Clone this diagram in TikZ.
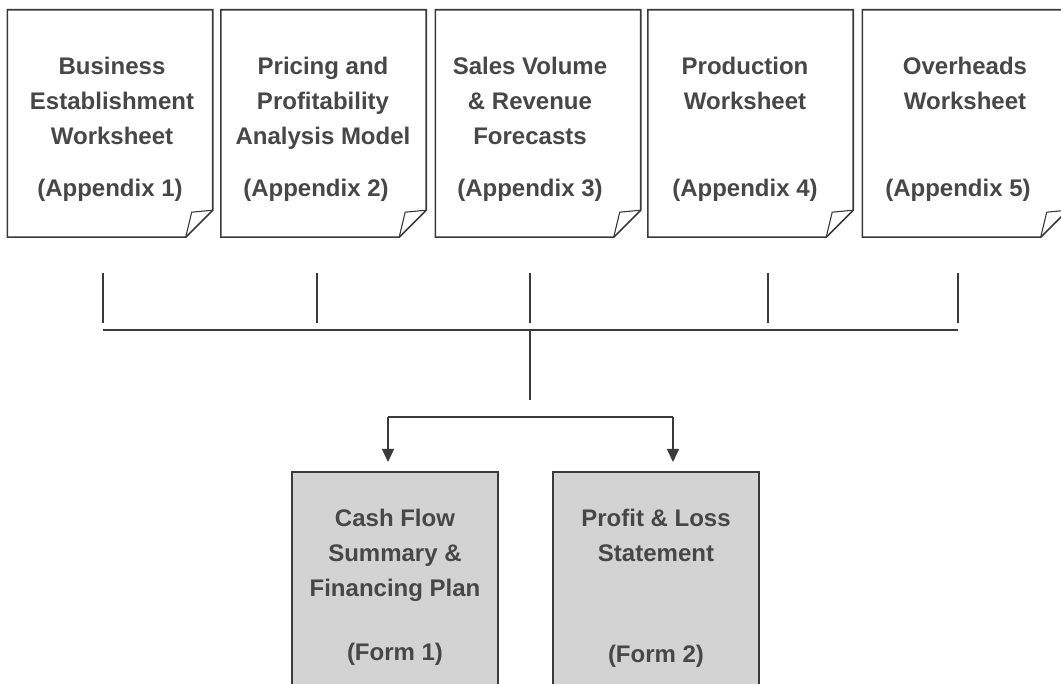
\documentclass[tikz,border=0pt]{standalone}
\usepackage{fontspec}
\usetikzlibrary{arrows.meta}
\newfontfamily\boxfont{Liberation Sans}
\definecolor{linegray}{HTML}{3A3A3A}
\definecolor{textgray}{HTML}{474747}
\definecolor{formgray}{HTML}{D3D3D3}

% outline of a sheet node with its folded corner
\newcommand\sheet[1]{
\draw[sheetline] (#1.north west) -- (#1.north east) -- ([yshift=27]#1.south east)
  -- ([xshift=-27]#1.south east) -- (#1.south west) -- cycle;
\draw[sheetline, line width=1.1] ([yshift=27]#1.south east) -- ([xshift=-21,yshift=25]#1.south east)
  -- ([xshift=-27]#1.south east);
}

\begin{document}
\begin{tikzpicture}[x=1pt, y=-1pt,
  sheetline/.style = {draw=linegray, line width=1.6, line join=miter},
  sheetbox/.style = {minimum width=205, minimum height=227, inner sep=0},
  formbox/.style = {draw=linegray, line width=1.6, fill=formgray, minimum width=206, minimum height=260, inner sep=0},
  title/.style = {font=\boxfont\bfseries\fontsize{24}{35}\selectfont, text=textgray, align=center, inner sep=0},
  link/.style = {draw=linegray, line width=1.5},
  arrow/.style = {link, -{Triangle[length=13,width=12]}}]
\clip (0,0) rectangle (1061,684);
\fill[white] (0,0) rectangle (1061,684);

% worksheets across the top
\node[sheetbox] (d1) at (110,123.5) {};
\node[sheetbox] (d2) at (323.5,123.5) {};
\node[sheetbox] (d3) at (538,123.5) {};
\node[sheetbox] (d4) at (750.5,123.5) {};
\node[sheetbox] (d5) at (965,123.5) {};
\sheet{d1} \sheet{d2} \sheet{d3} \sheet{d4} \sheet{d5}

\node[title, anchor=north] (d1t) at (112,57) {Business\\Establishment\\Worksheet};
\node[title, anchor=north] (d2t) at (323,57) {Pricing and\\Profitability\\Analysis Model};
\node[title, anchor=north] (d3t) at (530,57) {Sales Volume\\\& Revenue\\Forecasts};
\node[title, anchor=north] (d4t) at (745,57) {Production\\Worksheet};
\node[title, anchor=north] (d5t) at (965,57) {Overheads\\Worksheet};
\node[title, anchor=base] (d1a) at (110,197) {(Appendix 1)};
\node[title, anchor=base] (d2a) at (316,197) {(Appendix 2)};
\node[title, anchor=base] (d3a) at (530,197) {(Appendix 3)};
\node[title, anchor=base] (d4a) at (745,197) {(Appendix 4)};
\node[title, anchor=base] (d5a) at (958,197) {(Appendix 5)};

% the two forms at the bottom
\node[formbox] (cf) at (395,602) {};
\node[formbox] (pl) at (656,602) {};
\node[title, anchor=north] (cft) at (395,509) {Cash Flow\\Summary \&\\Financing Plan};
\node[title, anchor=north] (plt) at (656,509) {Profit \& Loss\\Statement};
\node[title, anchor=base] (cfa) at (395,660) {(Form 1)};
\node[title, anchor=base] (pla) at (656,662) {(Form 2)};

% ticks and bus
\coordinate (t1) at (103,273); \coordinate (b1) at (103,323);
\coordinate (t2) at (317,273); \coordinate (b2) at (317,323);
\coordinate (t3) at (530,273); \coordinate (b3) at (530,323);
\coordinate (t4) at (768,273); \coordinate (b4) at (768,323);
\coordinate (t5) at (958,273); \coordinate (b5) at (958,323);
\coordinate (busl) at (103,330); \coordinate (busr) at (958,330);
\coordinate (hub) at (530,330); \coordinate (drop) at (530,400);
\coordinate (split1) at (388,417); \coordinate (split2) at (673,417);
\coordinate (a1) at (388,462); \coordinate (a2) at (673,462);

\draw[link] (t1) -- (b1);
\draw[link] (t2) -- (b2);
\draw[link] (t3) -- (b3);
\draw[link] (t4) -- (b4);
\draw[link] (t5) -- (b5);
\draw[link] (busl) -- (busr);
\draw[link] (hub) -- (drop);
\draw[link] (split1) -- (split2);
\draw[arrow] (split1) -- (a1);
\draw[arrow] (split2) -- (a2);
\end{tikzpicture}
\end{document}
